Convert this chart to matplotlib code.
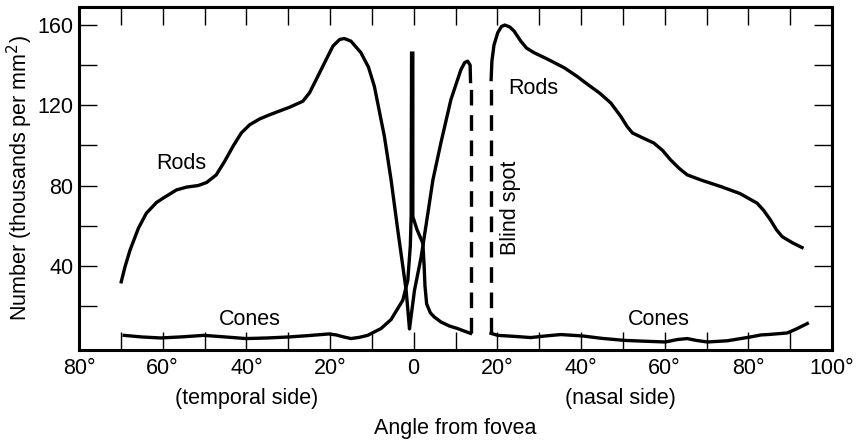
import matplotlib.pyplot as plt
import matplotlib.transforms as mtransforms

plt.rcParams['font.family'] = ['Liberation Sans', 'DejaVu Sans']

# rods, temporal side through the fovea up to the blind spot edge
rods_x = [-70, -69.0, -67.8, -65.8, -63.9, -61.5, -59.9, -56.7, -54.3, -51.5,
          -49.5, -47.2, -45.2, -43.2, -41.2, -39.2, -36.8, -34.4, -29.7, -26.5,
          -24.9, -23.3, -21.3, -19.3, -17.7, -16.6, -15.0, -12.6, -10.8, -9.4,
          -7.0, -5.4, -3.8, -1.8, -1.0, -0.6, 0.2, 1.8, 3.4, 4.6,
          6.5, 8.9, 11.3, 12.2, 12.9, 13.5, 13.6]
rods_y = [31.2, 39.5, 47.8, 58.7, 66.2, 71.5, 73.7, 77.8, 79.2, 80.0,
          81.5, 85.3, 92.0, 99.5, 106.2, 110.3, 113.2, 115.3, 119.0, 122.0,
          126.2, 132.8, 141.2, 149.5, 152.8, 153.3, 152.0, 146.2, 139.0, 129.5,
          104.5, 82.8, 57.8, 27.8, 8.5, 15.0, 27.8, 44.5, 66.2, 82.8,
          101.2, 122.8, 137.8, 141.3, 142.0, 140.0, 131.0]

# rods, nasal side after the blind spot
rods_nasal_x = [18.5, 18.7, 19.2, 20.1, 21.0, 21.8, 23.0, 24.0, 25.6, 27.0,
                28.8, 32.0, 36.0, 39.0, 41.6, 44.5, 47.1, 49.5, 51.0, 52.3,
                54.5, 57.4, 59.5, 61.4, 63.5, 65.4, 69.0, 73.4, 78.0, 82.1,
                83.7, 85.3, 86.7, 88.1, 90.5, 93.2]
rods_nasal_y = [132, 142, 150, 156.2, 159.3, 160, 159, 157, 152, 148.5,
                146.2, 143, 138.7, 134.5, 130.4, 126, 121.2, 114.5, 109.5, 106.2,
                104, 101.2, 97.5, 92.8, 88.5, 85.3, 82.5, 79.5, 76, 71.2,
                67.5, 62.8, 58, 54.5, 51.5, 48.7]

# cones, temporal side with the foveal peak
cones_x = [-69.2, -65, -60.5, -55, -50.2, -45, -40.1, -35, -29.8, -25,
           -20.3, -18.5, -16.7, -15, -13, -11, -7.8, -5.4, -2.6, -1.4,
           -0.8, -0.6, -0.5, -0.2, -0.2, 0.8, 2.2, 2.5, 2.7, 3.1,
           4.0, 4.9, 6.5, 8.5, 10.5, 12.0, 13.6]
cones_y = [5.3, 4.5, 4.0, 4.6, 5.3, 4.5, 3.7, 4.0, 4.5, 5.2,
           6.0, 5.5, 4.5, 3.7, 4.3, 5.3, 8.7, 13.2, 22.8, 32.8,
           50, 65, 146, 146, 64.5, 58, 51.2, 40, 30, 21,
           16.5, 14.5, 12, 10, 8.7, 7.5, 6.3]

cones_nasal_x = [18.5, 20.1, 24, 28, 31.5, 35.2, 40.4, 45, 50.3, 55,
                 60.2, 63, 65.4, 67.5, 70.2, 75, 80.5, 83, 85.3, 89.3,
                 91.5, 94.1]
cones_nasal_y = [6.3, 5.3, 4.8, 4.2, 5.0, 5.7, 5.0, 3.8, 2.8, 2.4,
                 2.0, 3.2, 3.7, 2.8, 2.0, 2.6, 4.5, 5.5, 5.8, 6.5,
                 8.5, 11.2]

# blind spot edges (dashed)
blind_x = [13.6, 18.5]
blind_top = [131, 132]
blind_bottom = [6.3, 6.3]

xticks = [-80, -60, -40, -20, 0, 20, 40, 60, 80, 100]
xlabels = ['80°', '60°', '40°', '20°', '0', '20°', '40°', '60°', '80°', '100°']
xminor = [-70, -50, -30, -10, 10, 30, 50, 70, 90]
yticks = [40, 80, 120, 160]
yminor = [20, 60, 100, 140]

fs = 15.5
lw = 2.4

fig = plt.figure(figsize=(8.63, 4.44), dpi=100)
ax = fig.add_axes([79 / 863, 94 / 444, 753 / 863, 343 / 444])

ax.plot(rods_x, rods_y, color='black', lw=lw, solid_capstyle='butt')
ax.plot(rods_nasal_x, rods_nasal_y, color='black', lw=lw, solid_capstyle='butt')
ax.plot(cones_x, cones_y, color='black', lw=lw, solid_joinstyle='miter')
ax.plot(cones_nasal_x, cones_nasal_y, color='black', lw=lw)
# drawn bottom-up so the first dash meets the cone line
for bx, t, b in zip(blind_x, blind_top, blind_bottom):
    ax.plot([bx, bx], [b, t], color='black', lw=lw, dashes=(4.7, 2.9))

ax.set_xlim(-80, 100)
ax.set_ylim(-2, 169)

ax.set_xticks(xticks)
ax.set_xticklabels(xlabels, fontsize=fs)
ax.set_xticks(xminor, minor=True)
ax.set_yticks(yticks)
ax.set_yticklabels([str(v) for v in yticks], fontsize=fs)
ax.set_yticks(yminor, minor=True)
ax.tick_params(which='both', direction='in', top=True, right=True,
               length=13, width=1, color='black')
ax.tick_params(axis='x', which='major', pad=5.5)
ax.tick_params(axis='y', which='major', pad=4)
for s in ax.spines.values():
    s.set_linewidth(2.2)

ax.set_ylabel('Number (thousands per mm$^2$)', fontsize=fs, labelpad=2)

trans = mtransforms.blended_transform_factory(ax.transData, ax.transAxes)
ax.text(-40, -0.157, '(temporal side)', transform=trans, ha='center',
        va='baseline', fontsize=fs)
ax.text(49.5, -0.157, '(nasal side)', transform=trans, ha='center',
        va='baseline', fontsize=fs)
ax.text(0.5, -0.245, 'Angle from fovea', transform=ax.transAxes,
        ha='center', va='baseline', fontsize=fs)

ax.text(-55.5, 90.8, 'Rods', ha='center', va='center', fontsize=fs)
ax.text(28.7, 128.3, 'Rods', ha='center', va='center', fontsize=fs)
ax.text(-39.2, 13.3, 'Cones', ha='center', va='center', fontsize=fs)
ax.text(58.6, 13.3, 'Cones', ha='center', va='center', fontsize=fs)
ax.text(23.2, 68.8, 'Blind spot', ha='center', va='center', rotation=90,
        fontsize=fs)

fig.savefig('out.png', dpi=100)
